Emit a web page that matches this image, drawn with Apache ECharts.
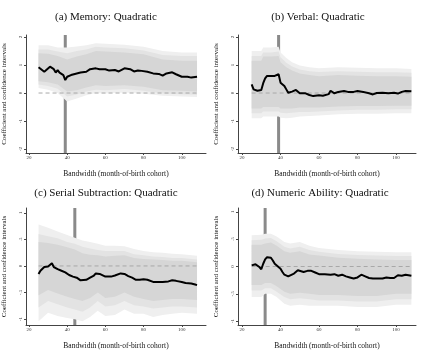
<!DOCTYPE html>
<html>
<head>
<meta charset="utf-8">
<script src="https://cdn.jsdelivr.net/npm/echarts@6/dist/echarts.min.js"></script>
<style>
html, body { margin: 0; padding: 0; background: #fff; }
#main { width: 423px; height: 351px; }
</style>
</head>
<body>
<div id="main"></div>
<script>
// tick labels
var xTicks = [20, 40, 60, 80, 100];
var yTicksTop = [-2, -1, 0, 1, 2];
var yTicksBottom = [-1, -0.5, 0, 0.5, 1];

var titles = ['(a) Memory: Quadratic', '(b) Verbal: Quadratic',
	'(c) Serial Subtraction: Quadratic', '(d) Numeric Ability: Quadratic'];
var cutoffs = [39, 39, 44, 32];

// (a) memory
var memX = [25,26,28,29,31,33,34,35,36,37,38,39,40,42,44,45,47,50,52,53,55,57,60,62,63,65,67,70,73,75,77,79,82,85,88,90,92,95,97,100,103,105,108];
var memB = [0.92,0.85,0.76,0.82,0.94,0.85,0.73,0.82,0.73,0.68,0.64,0.46,0.58,0.64,0.68,0.64,0.73,0.76,0.85,0.9,0.88,0.85,0.85,0.8,0.74,0.82,0.77,0.88,0.85,0.77,0.8,0.79,0.76,0.7,0.68,0.62,0.7,0.74,0.67,0.58,0.58,0.55,0.58];
var memBandX = [25,30,35,40,45,50,55,60,70,80,90,100,108];
var memHi3 = [1.7,1.7,1.62,1.62,1.66,1.7,1.78,1.76,1.72,1.65,1.5,1.45,1.45];
var memHi2 = [1.55,1.55,1.48,1.42,1.5,1.55,1.65,1.62,1.6,1.52,1.36,1.32,1.32];
var memHi1 = [1.42,1.4,1.32,1.2,1.3,1.38,1.5,1.48,1.45,1.38,1.2,1.15,1.15];
var memLo1 = [0.42,0.38,0.3,0.05,0.1,0.2,0.28,0.25,0.28,0.22,0.1,0.08,0.05];
var memLo2 = [0.3,0.25,0.15,-0.12,-0.05,0.05,0.12,0.1,0.14,0.08,-0.02,-0.04,-0.06];
var memLo3 = [0.18,0.12,0,-0.3,-0.2,-0.08,0,-0.02,0.02,-0.03,-0.1,-0.12,-0.14];

// (b) verbal
var verX = [25,26,27,28,29,30,31,32,33,35,37,38,39,40,41,42,43,44,46,48,50,51,53,55,57,60,62,63,65,66,68,70,73,75,78,80,83,86,88,90,93,96,99,101,103,105,108];
var verB = [0.31,0.13,0.08,0.08,0.05,0.11,0.35,0.52,0.61,0.61,0.61,0.63,0.67,0.37,0.32,0.25,0.13,0.01,0.05,0.11,-0.01,-0.07,-0.01,-0.07,-0.11,-0.08,-0.1,-0.13,-0.04,0.08,-0.01,0.04,0.07,0.04,0.04,0.07,0.04,-0.01,-0.05,0,0.01,-0.01,0.01,-0.02,0.04,0.07,0.06];
var verBandX = [25,30,31,35,39,40,43,46,50,55,60,70,80,90,100,108];
var verHi3 = [1.5,1.5,1.62,1.62,1.65,1.45,1.25,1.1,0.98,0.92,0.88,0.92,0.9,0.88,0.88,0.86];
var verHi2 = [1.32,1.32,1.45,1.45,1.48,1.28,1.08,0.95,0.84,0.78,0.75,0.78,0.76,0.74,0.74,0.72];
var verHi1 = [1.15,1.15,1.3,1.3,1.32,1.1,0.92,0.8,0.7,0.64,0.6,0.64,0.62,0.6,0.6,0.58];
var verLo1 = [-0.55,-0.55,-0.5,-0.5,-0.5,-0.55,-0.55,-0.55,-0.52,-0.52,-0.52,-0.48,-0.46,-0.46,-0.45,-0.45];
var verLo2 = [-0.72,-0.72,-0.66,-0.66,-0.66,-0.7,-0.72,-0.7,-0.68,-0.68,-0.66,-0.62,-0.6,-0.6,-0.58,-0.58];
var verLo3 = [-0.9,-0.9,-0.84,-0.84,-0.84,-0.88,-0.9,-0.88,-0.84,-0.82,-0.8,-0.76,-0.74,-0.74,-0.72,-0.72];

// (c) serial subtraction
var serX = [25,26,27,28,29,30,31,32,33,35,37,39,41,43,44,45,47,48,50,52,54,55,57,58,60,61,63,65,68,70,72,74,76,78,80,82,83,85,87,90,93,95,97,100,102,105,107,108];
var serB = [-0.15,-0.09,-0.07,-0.02,-0.04,-0.01,0.02,0.05,-0.02,-0.06,-0.09,-0.12,-0.17,-0.2,-0.18,-0.22,-0.27,-0.3,-0.26,-0.22,-0.18,-0.14,-0.15,-0.17,-0.2,-0.23,-0.2,-0.18,-0.14,-0.15,-0.19,-0.22,-0.26,-0.26,-0.25,-0.26,-0.23,-0.3,-0.3,-0.3,-0.29,-0.27,-0.28,-0.3,-0.32,-0.33,-0.35,-0.36];
var serBandX = [25,30,35,40,44,48,52,56,60,65,70,75,80,85,90,95,100,108];
var serHi3 = [0.78,0.72,0.65,0.58,0.53,0.48,0.45,0.42,0.38,0.38,0.37,0.32,0.28,0.26,0.25,0.23,0.22,0.19];
var serHi2 = [0.6,0.56,0.52,0.45,0.42,0.36,0.33,0.3,0.28,0.28,0.28,0.22,0.2,0.18,0.17,0.15,0.15,0.12];
var serHi1 = [0.45,0.43,0.4,0.35,0.31,0.24,0.21,0.2,0.18,0.19,0.2,0.15,0.13,0.12,0.11,0.1,0.1,0.07];
var serLo1 = [-0.55,-0.45,-0.52,-0.58,-0.62,-0.66,-0.6,-0.5,-0.6,-0.58,-0.5,-0.58,-0.62,-0.66,-0.64,-0.62,-0.62,-0.64];
var serLo2 = [-0.78,-0.66,-0.72,-0.78,-0.82,-0.86,-0.78,-0.66,-0.76,-0.74,-0.66,-0.74,-0.76,-0.8,-0.78,-0.76,-0.76,-0.78];
var serLo3 = [-1.04,-0.88,-0.94,-0.98,-1,-1.04,-0.96,-0.84,-0.94,-0.92,-0.82,-0.9,-0.9,-0.96,-0.92,-0.9,-0.88,-0.9];

// (d) numeric ability
var numX = [25,26,27,28,29,30,31,32,33,34,35,36,37,38,40,41,42,43,44,45,47,48,49,50,52,54,56,58,60,63,66,68,70,72,74,76,78,80,81,82,84,86,88,90,93,95,97,99,101,103,105,108];
var numB = [0.02,0.02,0.04,0.05,-0.01,-0.05,0.05,0.13,0.17,0.18,0.16,0.11,0.05,0.02,-0.04,-0.1,-0.15,-0.17,-0.18,-0.15,-0.13,-0.1,-0.07,-0.05,-0.1,-0.08,-0.08,-0.11,-0.14,-0.14,-0.15,-0.14,-0.17,-0.15,-0.18,-0.2,-0.22,-0.2,-0.17,-0.15,-0.18,-0.21,-0.22,-0.22,-0.22,-0.2,-0.21,-0.21,-0.16,-0.17,-0.15,-0.17];
var numBandX = [25,30,32,35,38,42,45,50,55,60,70,80,90,100,108];
var numHi3 = [0.57,0.58,0.6,0.6,0.55,0.45,0.42,0.45,0.38,0.34,0.3,0.28,0.27,0.26,0.26];
var numHi2 = [0.48,0.49,0.51,0.52,0.46,0.36,0.33,0.36,0.3,0.27,0.23,0.21,0.2,0.19,0.19];
var numHi1 = [0.4,0.4,0.42,0.44,0.38,0.28,0.25,0.28,0.22,0.2,0.16,0.14,0.13,0.12,0.12];
var numLo1 = [-0.34,-0.34,-0.3,-0.3,-0.36,-0.46,-0.5,-0.48,-0.5,-0.52,-0.52,-0.54,-0.54,-0.5,-0.5];
var numLo2 = [-0.44,-0.44,-0.4,-0.4,-0.46,-0.56,-0.6,-0.58,-0.6,-0.62,-0.62,-0.64,-0.64,-0.6,-0.6];
var numLo3 = [-0.56,-0.56,-0.5,-0.5,-0.56,-0.68,-0.72,-0.7,-0.72,-0.72,-0.72,-0.74,-0.74,-0.7,-0.7];

var FONT = 'Liberation Serif';

// 画布位置
var grids = [
	{left: 26, top: 35, width: 180, height: 118},
	{left: 238, top: 35, width: 178, height: 118},
	{left: 26, top: 208, width: 180, height: 120},
	{left: 238, top: 208, width: 178, height: 120}
];
var xRanges = [[18.43, 112.7], [17.9, 110.4], [18.43, 112.7], [17.9, 110.4]];
var yRanges = [[-2.14, 2.07], [-2.14, 2.07], [-1.11, 1.09], [-1.07, 1.07]];
var titlePos = [[101, 15], [313, 15], [101, 191], [315, 191]];

function zip(xs, ys){
	return xs.map(function(x, i){ return [x, ys[i]]; });
}

/**
 * 置信区间带 (custom polygon)
 */
function bandSeries(idx, xs, lo, hi, color, z){
	return {
		type: 'custom',
		xAxisIndex: idx,
		yAxisIndex: idx,
		silent: true,
		z: z,
		data: [[xs[0], lo[0]]],
		encode: {x: 0, y: 1},
		renderItem: function(params, api){
			var pts = [];
			for (var i = 0; i < xs.length; i++) pts.push(api.coord([xs[i], hi[i]]));
			for (var j = xs.length - 1; j >= 0; j--) pts.push(api.coord([xs[j], lo[j]]));
			return {type: 'polygon', shape: {points: pts}, style: {fill: color}};
		}
	};
}

function panelSeries(idx, xs, b, bx, hi3, hi2, hi1, lo1, lo2, lo3){
	var yr = yRanges[idx];
	return [
		{
			type: 'line', xAxisIndex: idx, yAxisIndex: idx, silent: true,
			symbol: 'none', z: 1,
			data: [[cutoffs[idx], yr[0]], [cutoffs[idx], yr[1]]],
			lineStyle: {color: '#8a8a8a', width: 3}
		},
		bandSeries(idx, bx, lo3, hi3, '#efefef', 2),
		bandSeries(idx, bx, lo2, hi2, '#e3e3e3', 3),
		bandSeries(idx, bx, lo1, hi1, '#d6d6d6', 4),
		{
			type: 'line', xAxisIndex: idx, yAxisIndex: idx, silent: true,
			symbol: 'none', z: 5,
			data: [[bx[0], 0], [bx[bx.length - 1], 0]],
			lineStyle: {color: '#a8a8a8', width: 1, type: [4, 3]}
		},
		{
			type: 'line', xAxisIndex: idx, yAxisIndex: idx, silent: true,
			symbol: 'none', z: 6,
			data: zip(xs, b),
			lineStyle: {color: '#000', width: 2}
		}
	];
}

function fmt(v){
	return String(v).replace('0.', '.');
}

var xAxes = [], yAxes = [], titleList = [];
for (var i = 0; i < 4; i++){
	xAxes.push({
		type: 'value', gridIndex: i,
		min: xRanges[i][0], max: xRanges[i][1],
		name: 'Bandwidth (month-of-birth cohort)',
		nameLocation: 'middle', nameGap: 17,
		nameTextStyle: {fontFamily: FONT, fontSize: 7.5, color: '#111'},
		axisLine: {onZero: false, lineStyle: {color: '#444', width: 1}},
		axisTick: {customValues: xTicks, length: 2, lineStyle: {color: '#444'}},
		axisLabel: {customValues: xTicks, fontFamily: FONT, fontSize: 5, color: '#333', margin: 2},
		splitLine: {show: false}
	});
	var yt = i < 2 ? yTicksTop : yTicksBottom;
	yAxes.push({
		type: 'value', gridIndex: i,
		min: yRanges[i][0], max: yRanges[i][1],
		name: 'Coefficient and confidence intervals',
		nameLocation: 'middle', nameGap: 18, nameRotate: 90,
		nameTextStyle: {fontFamily: FONT, fontSize: 7, color: '#111'},
		axisLine: {show: true, onZero: false, lineStyle: {color: '#444', width: 1}},
		axisTick: {show: true, customValues: yt, length: 2, lineStyle: {color: '#444'}},
		axisLabel: {customValues: yt, rotate: 90, fontFamily: FONT, fontSize: 5, color: '#333', margin: 3, formatter: fmt},
		splitLine: {show: false}
	});
	titleList.push({
		text: titles[i], left: titlePos[i][0], top: titlePos[i][1] - 8, textAlign: 'center',
		textStyle: {fontFamily: FONT, fontSize: 11, fontWeight: 'normal', color: '#111'}
	});
}

var series = [].concat(
	panelSeries(0, memX, memB, memBandX, memHi3, memHi2, memHi1, memLo1, memLo2, memLo3),
	panelSeries(1, verX, verB, verBandX, verHi3, verHi2, verHi1, verLo1, verLo2, verLo3),
	panelSeries(2, serX, serB, serBandX, serHi3, serHi2, serHi1, serLo1, serLo2, serLo3),
	panelSeries(3, numX, numB, numBandX, numHi3, numHi2, numHi1, numLo1, numLo2, numLo3)
);

var myChart = echarts.init(document.getElementById('main'));
myChart.setOption({
	backgroundColor: '#fff',
	animation: false,
	title: titleList,
	grid: grids,
	xAxis: xAxes,
	yAxis: yAxes,
	series: series
});
</script>
</body>
</html>
